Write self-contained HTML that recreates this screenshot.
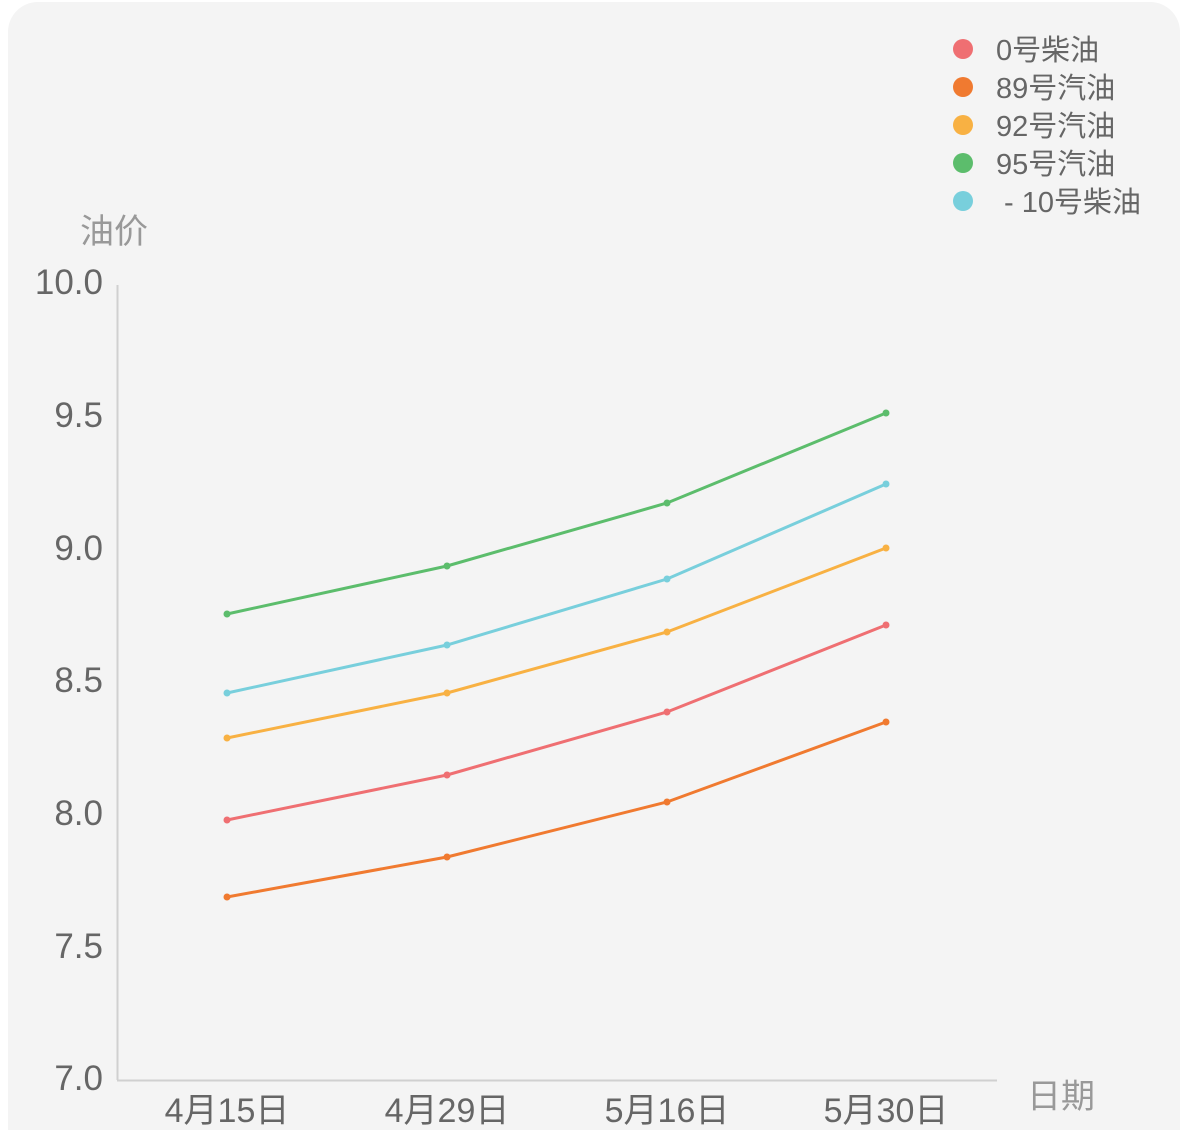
<!DOCTYPE html>
<html><head><meta charset="utf-8"><style>
html,body{margin:0;padding:0;background:#fff;width:1195px;height:1130px;overflow:hidden}
</style></head><body>
<svg width="1195" height="1130" xmlns="http://www.w3.org/2000/svg" font-family="'Liberation Sans','Noto Sans CJK SC',sans-serif">
<rect x="8" y="2" width="1172" height="1160" rx="30" fill="#f4f4f4"/>
<line x1="117.5" y1="285" x2="117.5" y2="1080" stroke="#d0d0d0" stroke-width="2"/>
<line x1="117" y1="1080.5" x2="997" y2="1080.5" stroke="#d0d0d0" stroke-width="2"/>
<g fill="#666" font-size="35" text-anchor="end">
<text x="103" y="294">10.0</text>
<text x="103" y="427">9.5</text>
<text x="103" y="560">9.0</text>
<text x="103" y="692">8.5</text>
<text x="103" y="825">8.0</text>
<text x="103" y="958">7.5</text>
<text x="103" y="1090">7.0</text>
</g>
<g fill="#666" font-size="34" text-anchor="middle">
<text x="227" y="1122">4月15日</text>
<text x="447" y="1122">4月29日</text>
<text x="667" y="1122">5月16日</text>
<text x="886" y="1122">5月30日</text>
</g>
<text x="80" y="243" fill="#999" font-size="34">油价</text>
<text x="1027" y="1108" fill="#999" font-size="34">日期</text>
<g fill="none" stroke-width="3">
<polyline stroke="#5cbd6c" points="227,614 447,566 667,503 886,413"/>
<polyline stroke="#78cfdc" points="227,693 447,645 667,579 886,484"/>
<polyline stroke="#f8b143" points="227,738 447,693 667,632 886,548"/>
<polyline stroke="#ef6f72" points="227,820 447,775 667,712 886,625"/>
<polyline stroke="#f07a30" points="227,897 447,857 667,802 886,722"/>
</g>
<g fill="#5cbd6c"><circle cx="227" cy="614" r="3.5"/><circle cx="447" cy="566" r="3.5"/><circle cx="667" cy="503" r="3.5"/><circle cx="886" cy="413" r="3.5"/></g>
<g fill="#78cfdc"><circle cx="227" cy="693" r="3.5"/><circle cx="447" cy="645" r="3.5"/><circle cx="667" cy="579" r="3.5"/><circle cx="886" cy="484" r="3.5"/></g>
<g fill="#f8b143"><circle cx="227" cy="738" r="3.5"/><circle cx="447" cy="693" r="3.5"/><circle cx="667" cy="632" r="3.5"/><circle cx="886" cy="548" r="3.5"/></g>
<g fill="#ef6f72"><circle cx="227" cy="820" r="3.5"/><circle cx="447" cy="775" r="3.5"/><circle cx="667" cy="712" r="3.5"/><circle cx="886" cy="625" r="3.5"/></g>
<g fill="#f07a30"><circle cx="227" cy="897" r="3.5"/><circle cx="447" cy="857" r="3.5"/><circle cx="667" cy="802" r="3.5"/><circle cx="886" cy="722" r="3.5"/></g>
<circle cx="963" cy="49" r="10" fill="#ef6f72"/>
<circle cx="963" cy="87" r="10" fill="#f07a30"/>
<circle cx="963" cy="125" r="10" fill="#f8b143"/>
<circle cx="963" cy="163" r="10" fill="#5cbd6c"/>
<circle cx="963" cy="201" r="10" fill="#78cfdc"/>
<g fill="#666" font-size="29">
<text x="996" y="60">0号柴油</text>
<text x="996" y="98">89号汽油</text>
<text x="996" y="136">92号汽油</text>
<text x="996" y="174">95号汽油</text>
<text x="1004" y="212">- 10号柴油</text>
</g>
</svg>
</body></html>
